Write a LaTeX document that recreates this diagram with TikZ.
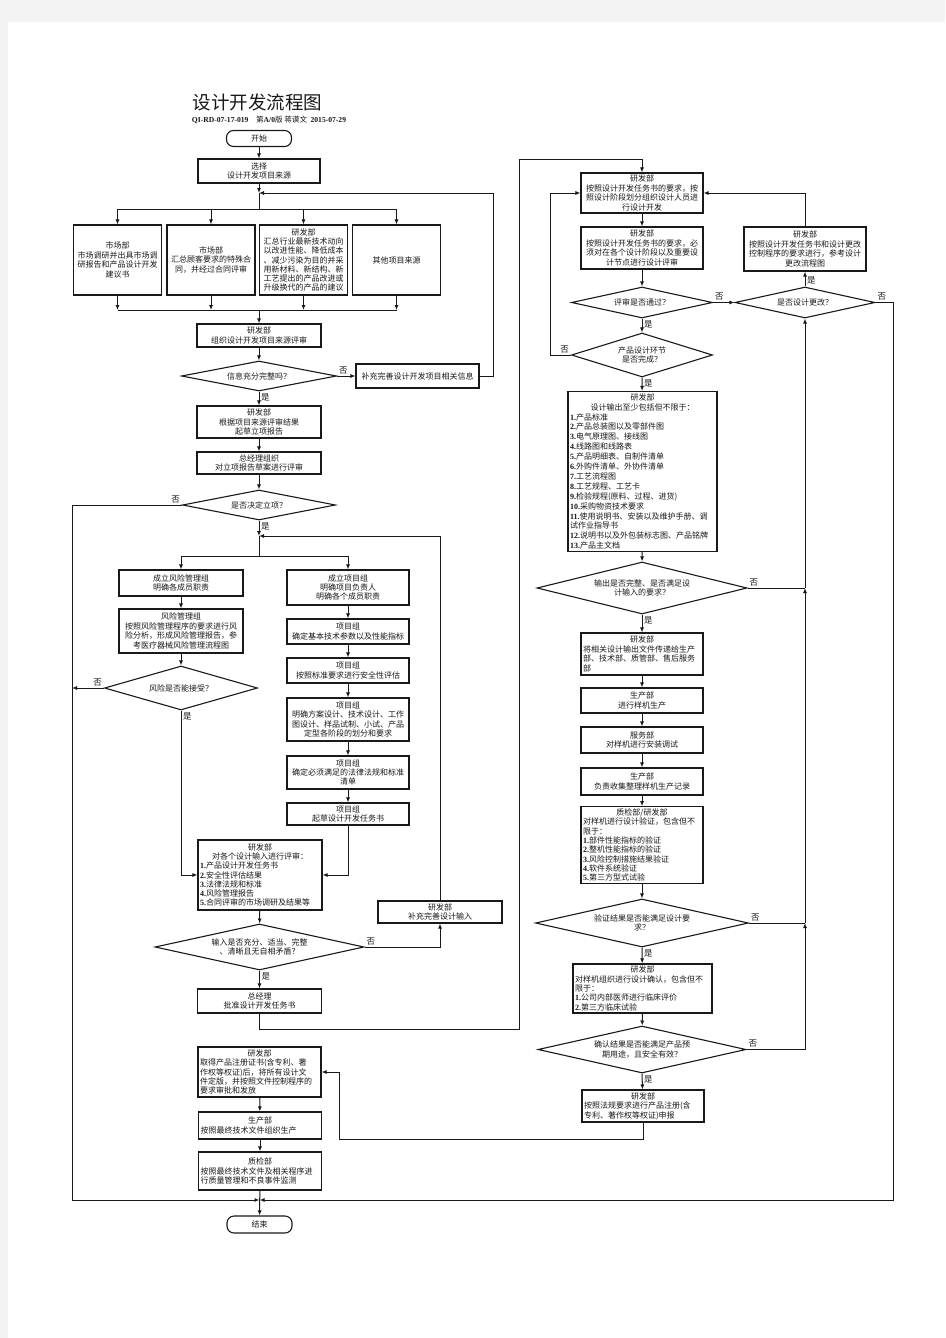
\documentclass[tikz,border=0pt]{standalone}
\usepackage{fontspec}
\setmainfont{Noto Sans CJK SC}
\newfontfamily\serifbf{Liberation Serif}
\usetikzlibrary{shapes.geometric, arrows.meta, positioning}
\definecolor{pagegray}{HTML}{F3F3F3}
\newcommand{\itemno}[1]{{\serifbf\bfseries #1.}}

\begin{document}
\begin{tikzpicture}[
    x=1pt, y=-1pt, line width=1pt, color=black!90,
    every node/.style={font=\fontsize{8}{9.4}\selectfont},
    box/.style={draw, line width=1.1pt, inner sep=1.5pt, align=center, minimum width=#1},
    listbox/.style={draw, line width=1.1pt, inner sep=2pt, text width=#1},
    decision/.style={draw, line width=1.1pt, diamond, inner sep=0pt, align=center},
    term/.style={draw, line width=1.1pt, rounded corners=7pt, minimum width=65pt, minimum height=16pt},
    arr/.style={-{Latex[length=5pt,width=4pt]}},
    lbl/.style={inner sep=1.5pt, font=\fontsize{8.5}{9}\selectfont}
  ]
  % Seite
  \fill[pagegray] (0,0) rectangle (945,1338);
  \fill[white] (8,22) rectangle (945,1338);
  \useasboundingbox (0,0) rectangle (945,1338);

  \node[font=\fontsize{18.5}{21}\selectfont] (title) at (257.5,102) {设计开发流程图};
  \node[font=\fontsize{7.6}{8}\selectfont] (subtitle) at (269,120)
    {{\serifbf\bfseries QI-RD-07-17-019}\quad 第{\serifbf\bfseries A/0}版 蒋谟文\ \ {\serifbf\bfseries 2015-07-29}};

  % linke Spalte
  \node[term] (start) at (259,138.5) {开始};
  \node[box=122pt, minimum height=24pt] (sel) at (259,171) {选择\\设计开发项目来源};
  \node[box=88pt, minimum height=70pt] (src1) at (117.5,260) {市场部\\市场调研并出具市场调\\研报告和产品设计开发\\建议书};
  \node[box=88pt, minimum height=70pt] (src2) at (211,260) {市场部\\汇总顾客要求的特殊合\\同，并经过合同评审};
  \node[box=88pt, minimum height=70pt, font=\fontsize{8}{9.2}\selectfont] (src3) at (303.5,260)
    {研发部\\汇总行业最新技术动向\\以改进性能、降低成本\\、减少污染为目的并采\\用新材料、新结构、新\\工艺提出的产品改进或\\升级换代的产品的建议};
  \node[box=88pt, minimum height=70pt] (src4) at (396.5,260) {其他项目来源};
  \coordinate (j1) at (259,193);
  \coordinate (j2) at (259,209);
  \coordinate (j3) at (259,310);
  \coordinate (c0) at (493,193);

  \node[box=124pt, minimum height=23pt] (org) at (259,335.5) {研发部\\组织设计开发项目来源评审};
  \node[decision, minimum width=155pt, minimum height=30pt, aspect=5.17] (ok1) at (259,376) {信息充分完整吗？};
  \node[box=123pt, minimum height=24pt] (add1) at (417.5,376) {补充完善设计开发项目相关信息};
  \node[box=124pt, minimum height=32pt] (draft) at (259,422) {研发部\\根据项目来源评审结果\\起草立项报告};
  \node[box=124pt, minimum height=22pt] (gmrev) at (259,463) {总经理组织\\对立项报告草案进行评审};
  \node[decision, minimum width=153pt, minimum height=30pt, aspect=5.1] (ok2) at (259,505) {是否决定立项？};
  \coordinate (j4) at (259,536);
  \coordinate (j5) at (259,556);

  \node[box=124pt, minimum height=26pt] (risk1) at (181,583) {成立风险管理组\\明确各成员职责};
  \node[box=124pt, minimum height=44pt] (risk2) at (181,631) {风险管理组\\按照风险管理程序的要求进行风\\险分析，形成风险管理报告，参\\考医疗器械风险管理流程图};
  \node[decision, minimum width=153pt, minimum height=44pt, aspect=3.48] (ok3) at (181,688) {风险是否能接受？};

  \node[box=122pt, minimum height=35pt] (team1) at (348,587.5) {成立项目组\\明确项目负责人\\明确各个成员职责};
  \node[box=122pt, minimum height=25pt] (team2) at (348,631.5) {项目组\\确定基本技术参数以及性能指标};
  \node[box=122pt, minimum height=25pt] (team3) at (348,670.5) {项目组\\按照标准要求进行安全性评估};
  \node[box=122pt, minimum height=43pt] (team4) at (348,719.5) {项目组\\明确方案设计、技术设计、工作\\图设计、样品试制、小试、产品\\定型各阶段的划分和要求};
  \node[box=122pt, minimum height=33pt] (team5) at (348,772.5) {项目组\\确定必须满足的法律法规和标准\\清单};
  \node[box=122pt, minimum height=22pt] (team6) at (348,814) {项目组\\起草设计开发任务书};

  \node[listbox=120pt, minimum height=70pt, font=\fontsize{8}{9.2}\selectfont] (inrev) at (260,875)
    {{\centering 研发部\\对各个设计输入进行评审：\par}
     \itemno{1}产品设计开发任务书\\
     \itemno{2}安全性评估结果\\
     \itemno{3}法律法规和标准\\
     \itemno{4}风险管理报告\\
     \itemno{5}合同评审的市场调研及结果等};
  \node[decision, minimum width=209pt, minimum height=46pt, aspect=4.54] (ok4) at (259.5,947) {输入是否充分、适当、完整\\、清晰且无自相矛盾？};
  \node[box=124pt, minimum height=22pt] (add2) at (440,912) {研发部\\补充完善设计输入};
  \node[box=124pt, minimum height=24pt] (appr) at (259.5,1001) {总经理\\批准设计开发任务书};
  \coordinate (c1) at (519,1029);
  \coordinate (c2) at (519,159);

  \node[listbox=119pt, minimum height=50pt] (reg) at (259.5,1072)
    {{\centering 研发部\par}
     取得产品注册证书(含专利、著\\
     作权等权证)后，将所有设计文\\
     件定版，并按照文件控制程序的\\
     要求审批和发放};
  \node[listbox=119pt, minimum height=27pt] (prod) at (260,1125.5)
    {{\centering 生产部\par}
     按照最终技术文件组织生产};
  \node[listbox=119pt, minimum height=38pt] (qc) at (260,1171)
    {{\centering 质检部\par}
     按照最终技术文件及相关程序进\\
     行质量管理和不良事件监测};
  \node[term, minimum height=17pt] (finish) at (259.5,1224.5) {结束};
  \coordinate (lb) at (72,1200);
  \coordinate (rb) at (893,1200);
  \coordinate (jb) at (259.5,1200);
  \coordinate (c4) at (339,1139);

  % rechte Spalte
  \node[box=122pt, minimum height=40pt] (devA) at (642,193) {研发部\\按照设计开发任务书的要求，按\\照设计阶段划分组织设计人员进\\行设计开发};
  \node[box=122pt, minimum height=42pt] (devB) at (642,248) {研发部\\按照设计开发任务书的要求，必\\须对在各个设计阶段以及重要设\\计节点进行设计评审};
  \node[decision, minimum width=141pt, minimum height=31pt, aspect=4.55] (ok5) at (642,302.5) {评审是否通过？};
  \node[decision, minimum width=140pt, minimum height=31pt, aspect=4.52] (ok6) at (805,302.5) {是否设计更改？};
  \node[box=122pt, minimum height=44pt] (chg) at (805,249) {研发部\\按照设计开发任务书和设计更改\\控制程序的要求进行，参考设计\\更改流程图};
  \node[decision, minimum width=141pt, minimum height=44pt, aspect=3.2] (ok7) at (642,355) {产品设计环节\\是否完成？};
  \coordinate (c3) at (550,193);

  \node[listbox=145pt, minimum height=157pt, font=\fontsize{8}{9.9}\selectfont] (out) at (642.5,471.5)
    {{\centering 研发部\\设计输出至少包括但不限于：\par}
     \itemno{1}产品标准\\
     \itemno{2}产品总装图以及零部件图\\
     \itemno{3}电气原理图、接线图\\
     \itemno{4}线路图和线路表\\
     \itemno{5}产品明细表、自制件清单\\
     \itemno{6}外购件清单、外协件清单\\
     \itemno{7}工艺流程图\\
     \itemno{8}工艺规程、工艺卡\\
     \itemno{9}检验规程(原料、过程、进货)\\
     \itemno{10}采购物资技术要求\\
     \itemno{11}使用说明书、安装以及维护手册、调\\
     试作业指导书\\
     \itemno{12}说明书以及外包装标志图、产品铭牌\\
     \itemno{13}产品主文档};
  \node[decision, minimum width=210pt, minimum height=52pt, aspect=4.04] (ok8) at (642,588) {输出是否完整、是否满足设\\计输入的要求？};
  \node[listbox=118pt, minimum height=42pt] (send) at (642,654)
    {{\centering 研发部\par}
     将相关设计输出文件传递给生产\\
     部、技术部、质管部、售后服务\\
     部};
  \node[box=122pt, minimum height=25pt] (proto) at (642,700.5) {生产部\\进行样机生产};
  \node[box=122pt, minimum height=26pt] (inst) at (642,740) {服务部\\对样机进行安装调试};
  \node[box=122pt, minimum height=27pt] (rec) at (642,781.5) {生产部\\负责收集整理样机生产记录};
  \node[listbox=118pt, minimum height=76pt, font=\fontsize{8}{9.3}\selectfont] (verif) at (642,845)
    {{\centering 质检部/研发部\par}
     对样机进行设计验证，包含但不\\
     限于：\\
     \itemno{1}部件性能指标的验证\\
     \itemno{2}整机性能指标的验证\\
     \itemno{3}风险控制措施结果验证\\
     \itemno{4}软件系统验证\\
     \itemno{5}第三方型式试验};
  \node[decision, minimum width=213pt, minimum height=48pt, aspect=4.44] (ok9) at (642,923) {验证结果是否能满足设计要\\求？};
  \node[listbox=135pt, minimum height=49pt] (valid) at (642.5,988.5)
    {{\centering 研发部\par}
     对样机组织进行设计确认，包含但不\\
     限于：\\
     \itemno{1}公司内部医师进行临床评价\\
     \itemno{2}第三方临床试验};
  \node[decision, minimum width=208pt, minimum height=47pt, aspect=4.43] (ok10) at (642,1049.5) {确认结果是否能满足产品预\\期用途，且安全有效？};
  \node[listbox=118pt, minimum height=32pt] (regapp) at (643,1106)
    {{\centering 研发部\par}
     按照法规要求进行产品注册(含\\
     专利、著作权等权证)申报};
  \coordinate (k8) at (ok8.east -| ok6.south);
  \coordinate (k9) at (ok9.east -| ok6.south);

  % Verbindungen links
  \draw[arr] (start) -- (sel);
  \draw[arr] (sel) -- (j1);
  \draw (j1) -- (j2);
  \foreach \s in {src1,src2,src3,src4} {
    \draw[arr] (j2) -| (\s.north);
    \draw[arr] (\s.south) -- (\s.south |- j3);
  }
  \draw (src1.south |- j3) -- (src4.south |- j3);
  \draw[arr] (j3) -- (org);
  \draw[arr] (org) -- (ok1);
  \draw[arr] (ok1.east) node[lbl, above right]{否} -- (add1.west);
  \draw[arr] (add1.east) -| (c0) -- (j1);
  \draw[arr] (ok1.south) node[lbl, below right]{是} -- (draft);
  \draw[arr] (draft) -- (gmrev);
  \draw[arr] (gmrev) -- (ok2);
  \draw[arr] (ok2.west) node[lbl, above left]{否} -| (lb) -- (jb);
  \draw[arr] (ok2.south) node[lbl, below right]{是} -- (j4);
  \draw (j4) -- (j5);
  \draw[arr] (j5) -| (risk1.north);
  \draw[arr] (j5) -| (team1.north);
  \draw[arr] (risk1) -- (risk2);
  \draw[arr] (risk2) -- (ok3);
  \draw[arr] (ok3.west) node[lbl, above left]{否} -- (ok3.west -| lb);
  \draw[arr] (ok3.south) node[lbl, below right]{是} |- (inrev.west);
  \draw[arr] (team1) -- (team2);
  \draw[arr] (team2) -- (team3);
  \draw[arr] (team3) -- (team4);
  \draw[arr] (team4) -- (team5);
  \draw[arr] (team5) -- (team6);
  \draw[arr] (team6.south) |- (inrev.east);
  \draw[arr] (inrev) -- (ok4);
  \draw[arr] (ok4.east) node[lbl, above right]{否} -| (add2.south);
  \draw[arr] (add2.north) |- (j4);
  \draw[arr] (ok4.south) node[lbl, below right]{是} -- (appr);
  \draw[arr] (appr.south) |- (c1) -- (c2) -| (devA.north);

  % Verbindungen rechts
  \draw[arr] (devA) -- (devB);
  \draw[arr] (devB) -- (ok5);
  \draw[arr] (ok5.east) node[lbl, above right]{否} -- (ok6.west);
  \draw[arr] (ok5.south) node[lbl, below right]{是} -- (ok7);
  \draw[arr] (ok7.west) node[lbl, above left]{否} -| (c3) -- (devA.west);
  \draw[arr] (ok6.north) node[lbl, above right]{是} -- (chg);
  \draw[arr] (chg.north) |- (devA.east);
  \draw[arr] (ok6.east) node[lbl, above right]{否} -| (rb) -- (jb);
  \draw[arr] (ok7.south) node[lbl, below right]{是} -- (out);
  \draw[arr] (out) -- (ok8);
  \draw (ok8.east) node[lbl, above right]{否} -- (k8);
  \draw[arr] (k8) -- (ok6.south);
  \draw[arr] (ok8.south) node[lbl, below right]{是} -- (send);
  \draw[arr] (send) -- (proto);
  \draw[arr] (proto) -- (inst);
  \draw[arr] (inst) -- (rec);
  \draw[arr] (rec) -- (verif);
  \draw[arr] (verif) -- (ok9);
  \draw (ok9.east) node[lbl, above right]{否} -- (k9);
  \draw[arr] (k9) -- (k8);
  \draw[arr] (ok9.south) node[lbl, below right]{是} -- (valid);
  \draw[arr] (valid) -- (ok10);
  \draw[arr] (ok10.east) node[lbl, above right]{否} -| (k9);
  \draw[arr] (ok10.south) node[lbl, below right]{是} -- (regapp);
  \draw[arr] (regapp.south) |- (c4) |- (reg.east);
  \draw[arr] (reg) -- (prod);
  \draw[arr] (prod) -- (qc);
  \draw[arr] (qc) -- (finish);
\end{tikzpicture}
\end{document}
